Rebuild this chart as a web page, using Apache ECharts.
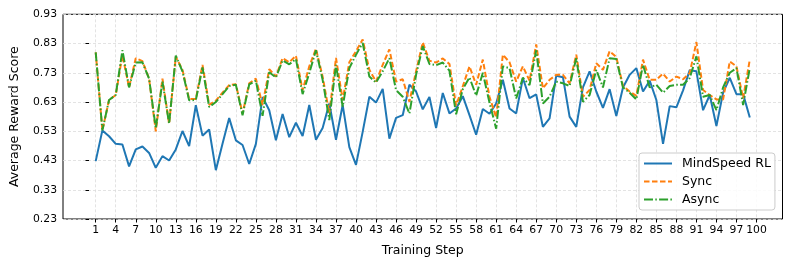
<!DOCTYPE html>
<html>
<head>
<meta charset="utf-8">
<script src="https://cdn.jsdelivr.net/npm/echarts@6/dist/echarts.min.js"></script>
<style>html,body{margin:0;padding:0;background:#fff}#c{width:793px;height:264px}</style>
</head>
<body>
<div id="c"></div>
<script>
const steps = [1,2,3,4,5,6,7,8,9,10,11,12,13,14,15,16,17,18,19,20,21,22,23,24,25,26,27,28,29,30,31,32,33,34,35,36,37,38,39,40,41,42,43,44,45,46,47,48,49,50,51,52,53,54,55,56,57,58,59,60,61,62,63,64,65,66,67,68,69,70,71,72,73,74,75,76,77,78,79,80,81,82,83,84,85,86,87,88,89,90,91,92,93,94,95,96,97,98,99];
const xTicks = [1,4,7,10,13,16,19,22,25,28,31,34,37,40,43,46,49,52,55,58,61,64,67,70,73,76,79,82,85,88,91,94,97,100];
const yTicks = [0.23,0.33,0.43,0.53,0.63,0.73,0.83,0.93];
const mindspeed = [0.428,0.533,0.513,0.487,0.485,0.41,0.468,0.478,0.456,0.405,0.445,0.43,0.468,0.531,0.479,0.619,0.515,0.536,0.397,0.487,0.575,0.499,0.483,0.418,0.487,0.647,0.602,0.499,0.589,0.51,0.559,0.514,0.62,0.501,0.541,0.625,0.501,0.62,0.476,0.415,0.528,0.648,0.628,0.675,0.505,0.576,0.585,0.689,0.666,0.605,0.647,0.541,0.661,0.591,0.608,0.65,0.585,0.518,0.606,0.59,0.625,0.706,0.608,0.591,0.712,0.643,0.656,0.545,0.574,0.72,0.715,0.58,0.545,0.68,0.735,0.666,0.61,0.674,0.582,0.68,0.723,0.746,0.666,0.703,0.637,0.487,0.616,0.612,0.67,0.739,0.735,0.602,0.654,0.548,0.662,0.713,0.657,0.657,0.577];
const sync = [0.80,0.533,0.637,0.654,0.79,0.68,0.78,0.77,0.71,0.53,0.71,0.556,0.785,0.74,0.64,0.64,0.757,0.62,0.635,0.662,0.688,0.691,0.59,0.694,0.71,0.62,0.742,0.717,0.78,0.766,0.788,0.67,0.752,0.812,0.717,0.591,0.781,0.637,0.766,0.804,0.844,0.74,0.70,0.757,0.81,0.70,0.708,0.631,0.735,0.834,0.771,0.765,0.779,0.76,0.618,0.684,0.752,0.689,0.775,0.648,0.577,0.792,0.766,0.70,0.752,0.703,0.827,0.677,0.706,0.723,0.723,0.694,0.792,0.648,0.671,0.763,0.74,0.804,0.784,0.685,0.666,0.651,0.775,0.706,0.706,0.727,0.70,0.717,0.708,0.729,0.835,0.671,0.654,0.639,0.639,0.769,0.752,0.643,0.775];
const async_ = [0.80,0.533,0.637,0.654,0.807,0.68,0.765,0.766,0.71,0.54,0.70,0.556,0.789,0.735,0.636,0.637,0.748,0.613,0.63,0.657,0.685,0.689,0.585,0.69,0.703,0.583,0.732,0.714,0.772,0.759,0.777,0.657,0.729,0.807,0.706,0.568,0.757,0.614,0.746,0.792,0.832,0.717,0.697,0.735,0.78,0.671,0.648,0.591,0.723,0.821,0.76,0.756,0.765,0.737,0.588,0.674,0.714,0.652,0.73,0.628,0.539,0.752,0.746,0.642,0.713,0.688,0.807,0.625,0.648,0.70,0.694,0.685,0.78,0.631,0.654,0.74,0.68,0.78,0.777,0.68,0.662,0.639,0.757,0.68,0.689,0.662,0.685,0.689,0.689,0.712,0.786,0.648,0.654,0.602,0.68,0.73,0.746,0.62,0.746];

const pair = arr => steps.map((s, i) => [s, arr[i]]);
const FONT = 'DejaVu Sans';
const chart = echarts.init(document.getElementById('c'), null, {renderer: 'canvas'});
chart.setOption({
  animation: false,
  backgroundColor: '#fff',
  textStyle: {fontFamily: FONT},
  grid: {left: 57, right: 10.5, top: 14.3, bottom: 45, show: true, borderColor: '#000', borderWidth: 1, backgroundColor: 'transparent'},
  xAxis: {
    type: 'value', min: -3.9, max: 103.9,
    name: 'Training Step', nameLocation: 'middle', nameGap: 25,
    nameTextStyle: {fontFamily: FONT, fontSize: 12.5, color: '#000'},
    axisLine: {show: false},
    axisTick: {show: true, inside: false, length: 3.5, customValues: xTicks, lineStyle: {color: '#000', width: 1}},
    axisLabel: {customValues: xTicks, margin: 6, fontFamily: FONT, fontSize: 10.8, color: '#000'},
    splitLine: {show: true, lineStyle: {color: '#dcdcdc', type: [3, 2], width: 0.8}}
  },
  yAxis: {
    type: 'value', min: 0.23, max: 0.93,
    name: 'Average Reward Score', nameLocation: 'middle', nameGap: 42,
    nameTextStyle: {fontFamily: FONT, fontSize: 12.5, color: '#000'},
    axisLine: {show: false},
    axisTick: {show: true, inside: false, length: 3.5, customValues: yTicks, lineStyle: {color: '#000', width: 1}},
    axisLabel: {customValues: yTicks, margin: 6, fontFamily: FONT, fontSize: 10.8, color: '#000', formatter: v => v.toFixed(2)},
    splitLine: {show: true, lineStyle: {color: '#dcdcdc', type: [3, 2], width: 0.8}}
  },
  legend: {
    orient: 'vertical', left: 639, top: 153,
    padding: [4, 4, 4, 4], itemGap: 5, itemWidth: 28, itemHeight: 14,
    backgroundColor: 'rgba(255,255,255,0.85)', borderColor: '#cccccc', borderWidth: 1, borderRadius: 3,
    itemStyle: {opacity: 0},
    textStyle: {fontFamily: FONT, fontSize: 12.5, color: '#000', padding: [0, 0, 0, 5]},
    data: ['MindSpeed RL', 'Sync', 'Async']
  },
  series: [
    {name: 'MindSpeed RL', type: 'line', data: pair(mindspeed), symbol: 'none', color: '#1f77b4',
     lineStyle: {color: '#1f77b4', width: 2}},
    {name: 'Sync', type: 'line', data: pair(sync), symbol: 'none', color: '#ff7f0e',
     lineStyle: {color: '#ff7f0e', width: 2, type: [5.5, 2.5]}},
    {name: 'Async', type: 'line', data: pair(async_), symbol: 'none', color: '#2ca02c',
     lineStyle: {color: '#2ca02c', width: 2, type: [9, 2.3, 1.5, 2.3]}}
  ]
});
</script>
</body>
</html>
